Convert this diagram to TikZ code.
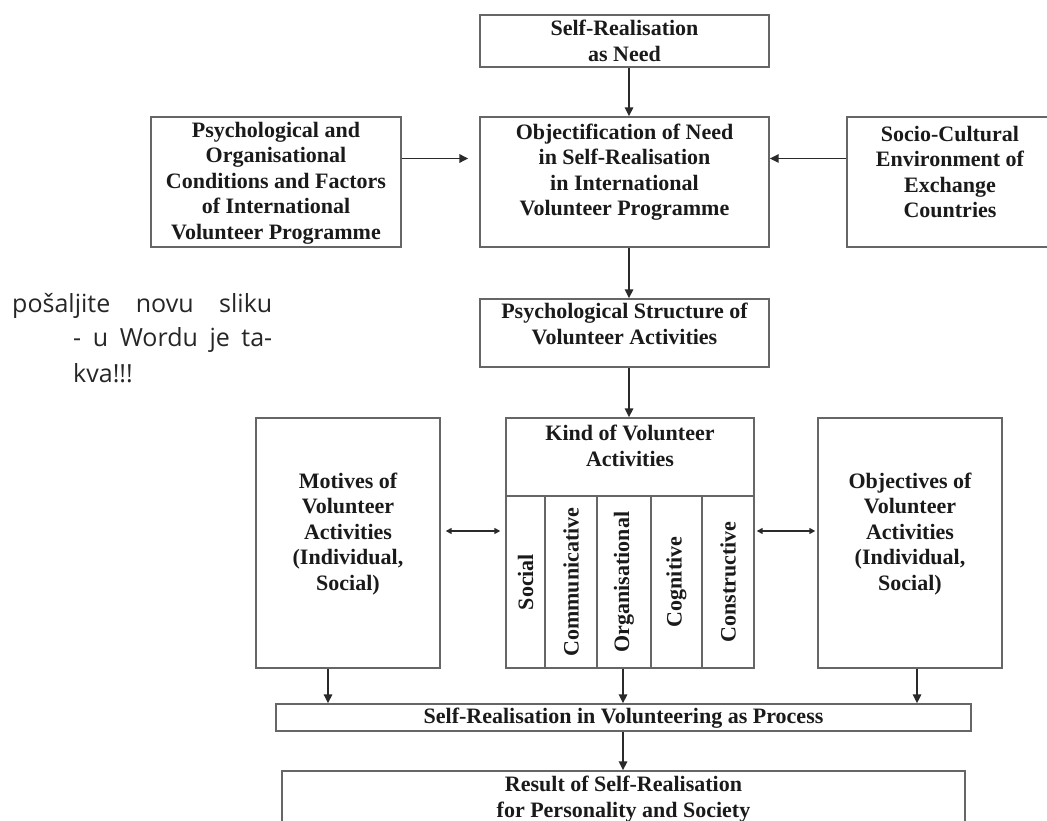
\documentclass[tikz,border=0pt]{standalone}
\usepackage{fontspec}
\setmainfont{Liberation Serif}
\newfontfamily\notefont{Open Sans}
\usetikzlibrary{arrows.meta}
\definecolor{boxgray}{HTML}{666666}
\definecolor{arrowgray}{HTML}{2A2A2A}
\definecolor{txt}{HTML}{1A1A1A}
\definecolor{notec}{HTML}{262626}
\begin{document}
\begin{tikzpicture}[x=1pt,y=-1pt,
  box/.style={draw=boxgray,line width=1.4pt,inner sep=0pt},
  lbl/.style={font=\fontsize{22}{25.5}\selectfont\bfseries,text=txt,align=center,inner sep=0pt},
  note/.style={anchor=base west,font=\notefont\fontsize{25}{35}\selectfont,text=notec,inner sep=0pt},
  arr/.style={draw=arrowgray,line width=1.6pt,-{Triangle[length=9pt,width=8.5pt]}},
  darr/.style={draw=arrowgray,line width=1.6pt,{Triangle[length=6pt,width=6pt]}-{Triangle[length=6pt,width=6pt]}}]

\useasboundingbox (0,0) rectangle (1047,821);

% helper coordinates for connector lines
\coordinate (xTop) at (629,0);
\coordinate (xMot) at (328,0);
\coordinate (xMid) at (623,0);
\coordinate (xObj) at (917,0);
\coordinate (yTop) at (0,158.5);
\coordinate (yMid) at (0,531);

% top part
\node[box,minimum width=289pt,minimum height=52pt] (need) at (624.5,41) {};
\node[lbl] (needt) at (624.5,41) {Self-Realisation\\as Need};

\node[box,minimum width=289pt,minimum height=130pt] (objn) at (624.5,182) {};
\node[lbl] (objnt) at (624.5,172) {Objectification of Need\\in Self-Realisation\\in International\\Volunteer Programme};

\node[box,minimum width=250pt,minimum height=130pt] (cond) at (276,182) {};
\node[lbl] (condt) at (276,183) {Psychological and\\Organisational\\Conditions and Factors\\of International\\Volunteer Programme};

\node[box,minimum width=206pt,minimum height=130pt] (socio) at (950,182) {};
\node[lbl] (sociot) at (950,172) {Socio-Cultural\\Environment of\\Exchange\\Countries};

\node[box,minimum width=289pt,minimum height=68pt] (psych) at (624.5,333) {};
\node[lbl] (psycht) at (624.5,324) {Psychological Structure of\\Volunteer Activities};

% note
\node[note] (note1) at (12,312) {\makebox[260pt][s]{pošaljite novu sliku}};
\node[note] (note2) at (73,346) {\makebox[199pt][s]{- u Wordu je ta-}};
\node[note] (note3) at (73,382) {kva!!!};

% middle row
\node[box,minimum width=184pt,minimum height=250pt] (mot) at (348,543) {};
\node[lbl] (mott) at (348,534) {Motives of\\Volunteer\\Activities\\(Individual,\\Social)};

\node[box,minimum width=184pt,minimum height=250pt] (objv) at (910,543) {};
\node[lbl] (objvt) at (910,534) {Objectives of\\Volunteer\\Activities\\(Individual,\\Social)};

\node[box,minimum width=248pt,minimum height=250pt] (kind) at (630,543) {};
\node[box,minimum width=248pt,minimum height=78pt] (kindh) at (630,457) {};
\node[lbl] (kindt) at (630,446) {Kind of Volunteer\\Activities};
\node[box,minimum width=39pt,minimum height=172pt] (c1) at (525.5,582) {};
\node[box,minimum width=52pt,minimum height=172pt] (c2) at (571,582) {};
\node[box,minimum width=54pt,minimum height=172pt] (c3) at (624,582) {};
\node[box,minimum width=51pt,minimum height=172pt] (c4) at (676.5,582) {};
\node[box,minimum width=52pt,minimum height=172pt] (c5) at (728,582) {};
\node[lbl,rotate=90] (c1t) at (c1) {Social};
\node[lbl,rotate=90] (c2t) at (c2) {Communicative};
\node[lbl,rotate=90] (c3t) at (c3) {Organisational};
\node[lbl,rotate=90] (c4t) at (c4) {Cognitive};
\node[lbl,rotate=90] (c5t) at (c5) {Constructive};

% bottom
\node[box,minimum width=695pt,minimum height=27pt] (proc) at (623.5,717.5) {};
\node[lbl] (proct) at (623.5,718) {Self-Realisation in Volunteering as Process};

\node[box,minimum width=683pt,minimum height=69pt] (res) at (623.5,805.5) {};
\node[lbl] (rest) at (623.5,799) {Result of Self-Realisation\\for Personality and Society};

% connectors
\draw[arr] (need.south -| xTop) -- (objn.north -| xTop);
\draw[arr,shorten >=11pt] (cond.east |- yTop) -- (objn.west |- yTop);
\draw[arr] (socio.west |- yTop) -- (objn.east |- yTop);
\draw[arr] (objn.south -| xTop) -- (psych.north -| xTop);
\draw[arr] (psych.south -| xTop) -- (kind.north -| xTop);
\draw[darr,shorten <=5pt,shorten >=5pt] (mot.east |- yMid) -- (kind.west |- yMid);
\draw[darr,shorten <=2pt,shorten >=2pt] (kind.east |- yMid) -- (objv.west |- yMid);
\draw[arr] (mot.south -| xMot) -- (proc.north -| xMot);
\draw[arr] (kind.south -| xMid) -- (proc.north -| xMid);
\draw[arr] (objv.south -| xObj) -- (proc.north -| xObj);
\draw[arr] (proc.south -| xMid) -- (res.north -| xMid);
\end{tikzpicture}
\end{document}
